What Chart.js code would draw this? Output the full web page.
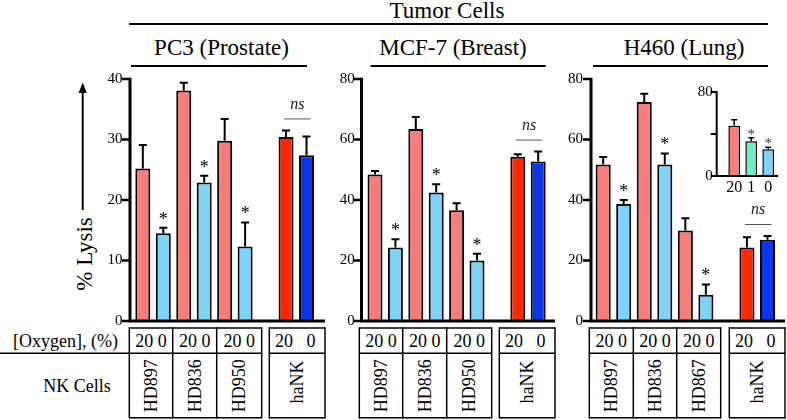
<!DOCTYPE html>
<html><head><meta charset="utf-8">
<script src="https://cdn.jsdelivr.net/npm/chart.js@4"></script>
<style>
html,body{margin:0;padding:0;background:#fff;}
#root{position:relative;width:787px;height:420px;overflow:hidden;background:#fff;}
#root canvas{position:absolute;}
#ov{position:absolute;left:0;top:0;}
</style></head><body>
<div id="root">
<svg id="ov" width="787" height="420" xmlns="http://www.w3.org/2000/svg"></svg>
<canvas id="c1"></canvas>
<canvas id="c2"></canvas>
<canvas id="c3"></canvas>
<canvas id="c4"></canvas>
</div>
<script>
// ---------------- DATA ----------------
const groupTitle = 'Tumor Cells';
const panelTitles = ['PC3 (Prostate)', 'MCF-7 (Breast)', 'H460 (Lung)'];
const yAxisTitle = '% Lysis';
const rowTitles = ['[Oxygen], (%)', 'NK Cells'];
const oxygenLevels = ['20', '0'];
const oxygenLabels = ['20', '0', '20', '0', '20', '0', '', '20', '0'];
const haNKName = 'haNK';
const nsText = 'ns';

const pc3Donors = ['HD897', 'HD836', 'HD950'];
const pc3Lysis = [25.2, 14.5, 38.1, 22.9, 29.8, 12.3, null, 30.4, 27.4];
const pc3Sem   = [3.9, 0.9, 1.3, 1.1, 3.6, 4.0, null, 1.1, 3.1];

const mcf7Donors = ['HD897', 'HD836', 'HD950'];
const mcf7Lysis = [48.4, 24.3, 63.5, 42.5, 36.6, 20.0, null, 54.3, 52.7];
const mcf7Sem   = [1.2, 2.7, 3.9, 2.7, 2.3, 2.2, null, 0.8, 3.3];

const h460Donors = ['HD897', 'HD836', 'HD867'];
const h460Lysis = [51.7, 38.7, 72.4, 51.7, 29.9, 8.7, null, 24.3, 26.9];
const h460Sem   = [2.5, 1.3, 2.7, 3.7, 4.1, 3.4, null, 3.4, 1.2];

const sigMarks = ['', '*', '', '*', '', '*', '', '', ''];

const insetLabels = ['20', '1', '0'];
const insetLysis = [47.9, 33.0, 25.5];
const insetSem   = [5.6, 3.4, 2.0];
const insetSig   = ['', '*', '*'];
const insetTickLabels = [0, 80];

// ---------------- STYLE ----------------
const PINK = '#F77C7C', LBLUE = '#7DD3F8', RED = '#FF2800', BLUE = '#0A36EE', MINT = '#70EFC6';
const mainColors = [PINK, LBLUE, PINK, LBLUE, PINK, LBLUE, null, RED, BLUE];
const FONT = "'Liberation Serif', 'DejaVu Serif', 'Noto Serif', 'Tinos', 'Nimbus Roman', 'FreeSerif', 'Times New Roman', 'Noto Serif CJK SC', 'Noto Serif CJK JP', serif";

const decor = {
  id: 'decor',
  afterDatasetsDraw(chart, args, o) {
    const {ctx, chartArea: a} = chart;
    const y = chart.scales.y;
    const meta = chart.getDatasetMeta(0);
    const data = chart.data.datasets[0].data;
    ctx.save();
    ctx.strokeStyle = '#000'; ctx.fillStyle = '#000';
    meta.data.forEach((bar, i) => {
      const v = data[i]; if (v == null) return;
      const yb = y.getPixelForValue(v), yt = y.getPixelForValue(v + o.sem[i]);
      ctx.lineWidth = o.errW;
      ctx.beginPath();
      ctx.moveTo(bar.x, yb); ctx.lineTo(bar.x, yt);
      ctx.moveTo(bar.x - o.cap, yt); ctx.lineTo(bar.x + o.cap, yt);
      ctx.stroke();
      if (o.sig[i]) {
        ctx.font = o.starFont; ctx.textAlign = 'center'; ctx.textBaseline = 'alphabetic';
        ctx.fillStyle = o.starColor || '#000';
        ctx.fillText(o.sig[i], bar.x, yt - o.starGap + o.starDrop);
        ctx.fillStyle = '#000';
      }
    });
    if (o.nsPair) {
      const [i, j] = o.nsPair;
      const bi = meta.data[i], bj = meta.data[j];
      const top = Math.min(y.getPixelForValue(data[i] + o.sem[i]), y.getPixelForValue(data[j] + o.sem[j]));
      const ly = top - 11.5;
      ctx.lineWidth = 1; ctx.strokeStyle = '#555';
      ctx.beginPath(); ctx.moveTo(bi.x - 2, ly); ctx.lineTo(bj.x + 4, ly); ctx.stroke();
      ctx.font = 'italic 16px ' + FONT; ctx.textAlign = 'center'; ctx.textBaseline = 'alphabetic';
      ctx.fillStyle = '#222';
      ctx.fillText(nsText, (bi.x + bj.x) / 2 + 1, ly - 14 + 3.7);
    }
    const ax = a.left - o.axGap;
    ctx.strokeStyle = '#000'; ctx.lineWidth = o.axW;
    ctx.beginPath();
    ctx.moveTo(ax, a.top - o.tickW / 2); ctx.lineTo(ax, a.bottom);
    ctx.moveTo(ax - o.axW / 2, a.bottom); ctx.lineTo(o.xEnd, a.bottom);
    ctx.stroke();
    ctx.lineWidth = o.tickW;
    y.ticks.forEach(t => {
      const py = y.getPixelForValue(t.value);
      ctx.beginPath(); ctx.moveTo(ax - o.tickLen, py); ctx.lineTo(ax, py); ctx.stroke();
    });
    ctx.restore();
  }
};

function setCanvas(id, left, top, w, h) {
  const c = document.getElementById(id);
  c.width = w; c.height = h;
  c.style.left = left + 'px'; c.style.top = top + 'px';
  c.style.width = w + 'px'; c.style.height = h + 'px';
  return c;
}

function makePanel(id, g, values, sem, ymax, ystep) {
  const top = 60, h = 280;
  const c = setCanvas(id, g.canvasLeft, top, g.canvasW, h);
  const yW = g.areaLeft - g.canvasLeft;
  const padR = g.canvasW - yW - 9 * g.catW;
  new Chart(c, {
    type: 'bar',
    data: {
      labels: oxygenLabels,
      datasets: [{
        data: values, backgroundColor: mainColors, borderColor: '#000',
        borderWidth: 2, barPercentage: 0.733, categoryPercentage: 1
      }]
    },
    options: {
      responsive: false, animation: false, devicePixelRatio: 1,
      layout: { padding: { left: 0, right: padR, top: 79 - top, bottom: top + h - 328 } },
      plugins: {
        legend: { display: false }, tooltip: { enabled: false },
        decor: {
          sem, sig: sigMarks, errW: 2, cap: 4, starFont: '18px ' + FONT, starGap: 12, starDrop: 8.8,
          nsPair: [7, 8], axGap: g.areaLeft - g.axisX, axW: 3, tickW: 2.5, tickLen: 8,
          xEnd: g.xEnd - g.canvasLeft
        }
      },
      scales: {
        x: { display: false, offset: true, grid: { display: false } },
        y: {
          min: 0, max: ymax,
          ticks: { stepSize: ystep, font: { family: FONT, size: 15 }, color: '#000', padding: 10 },
          grid: { display: false, drawTicks: false }, border: { display: false },
          afterFit(s) { s.width = yW; }
        }
      }
    },
    plugins: [decor]
  });
}

makePanel('c1', { canvasLeft: 87, canvasW: 243, axisX: 130, areaLeft: 132.6, catW: 20.46, xEnd: 325 }, pc3Lysis, pc3Sem, 40, 10);
makePanel('c2', { canvasLeft: 319, canvasW: 241, axisX: 361.5, areaLeft: 364.8, catW: 20.4, xEnd: 555 }, mcf7Lysis, mcf7Sem, 80, 20);
makePanel('c3', { canvasLeft: 547, canvasW: 240, axisX: 591, areaLeft: 592.9, catW: 20.54, xEnd: 785 }, h460Lysis, h460Sem, 80, 20);

(function () {
  const left = 680, top = 70, w = 107, h = 130;
  const c = setCanvas('c4', left, top, w, h);
  const areaLeft = 725.7, catW = 17, axisX = 716.7;
  const yW = areaLeft - left;
  new Chart(c, {
    type: 'bar',
    data: {
      labels: insetLabels,
      datasets: [{
        data: insetLysis, backgroundColor: [PINK, MINT, LBLUE], borderColor: '#000',
        borderWidth: 1.5, barPercentage: 0.69, categoryPercentage: 1
      }]
    },
    options: {
      responsive: false, animation: false, devicePixelRatio: 1,
      layout: { padding: { left: 0, right: w - yW - 3 * catW, top: 80.7 - top, bottom: h - (176 - top) - 20 } },
      plugins: {
        legend: { display: false }, tooltip: { enabled: false },
        decor: {
          sem: insetSem, sig: insetSig, errW: 1.5, cap: 3, starFont: '14px ' + FONT, starGap: 6, starDrop: 6.9,
          starColor: '#333', nsPair: null, axGap: areaLeft - axisX, axW: 2, tickW: 2, tickLen: 6, xEnd: 778 - left
        }
      },
      scales: {
        x: {
          offset: true, grid: { display: false, drawTicks: false }, border: { display: false },
          ticks: { font: { family: FONT, size: 16 }, color: '#000', padding: 2, maxRotation: 0, autoSkip: false },
          afterFit(s) { s.height = 20; }
        },
        y: {
          min: 0, max: 80,
          ticks: { stepSize: 40, font: { family: FONT, size: 15 }, color: '#000', padding: 13,
                   callback: v => insetTickLabels.includes(v) ? String(v) : '' },
          grid: { display: false, drawTicks: false }, border: { display: false },
          afterFit(s) { s.width = yW; }
        }
      }
    },
    plugins: [decor]
  });
})();

// ---------------- OVERLAY (titles, table) ----------------
const NS = 'http://www.w3.org/2000/svg';
const ov = document.getElementById('ov');
function el(name, attrs) {
  const e = document.createElementNS(NS, name);
  for (const k in attrs) e.setAttribute(k, attrs[k]);
  ov.appendChild(e); return e;
}
function line(x1, y1, x2, y2, w, col) {
  el('line', { x1, y1, x2, y2, stroke: col || '#000', 'stroke-width': w || 1.5 });
}
function text(s, x, y, size, anchor, rot, extra) {
  const t = el('text', Object.assign({ x, y, 'font-size': size, 'text-anchor': anchor || 'middle', fill: '#000' }, extra || {}));
  t.style.fontFamily = FONT;
  if (rot) t.setAttribute('transform', `rotate(-90 ${x} ${y})`);
  t.textContent = s; return t;
}

text(groupTitle, 447, 17.5, 23);
line(129, 24, 768, 24, 1.8);
const titleGeo = [[221.5, 131, 307], [453, 370.7, 545.7], [684, 593, 768]];
panelTitles.forEach((t, i) => {
  const [cx, x1, x2] = titleGeo[i];
  text(t, cx, 55, 23);
  line(x1, 66, x2, 66, 1.8);
});

line(82.7, 92, 82.7, 210, 2);
el('polygon', { points: '82.7,82.5 78.6,93 86.8,93', fill: '#000' });
text(yAxisTitle, 91.5, 254, 23, 'middle', true);

text(rowTitles[0], 118, 347, 18, 'end');
text(rowTitles[1], 77, 391.5, 18, 'middle');
line(0, 353.3, 129.3, 353.3, 1.5);

const tableGeo = [
  { edges: [129.3, 172.7, 216.7, 261.7], ha: [269.3, 325], donors: pc3Donors },
  { edges: [359.3, 402.7, 446.7, 491.7], ha: [499.3, 555], donors: mcf7Donors },
  { edges: [589.3, 633.3, 676.7, 720.7], ha: [729.3, 785], donors: h460Donors }
];
const yTop = 328, yMid = 353.3, yBot = 417.7;
function box(edges) {
  const x0 = edges[0], x1 = edges[edges.length - 1];
  line(x0, yTop, x1, yTop, 1.5);
  line(x0, yMid, x1, yMid, 1.5);
  line(x0, yBot, x1, yBot, 1.5);
  edges.forEach(x => line(x, yTop - 0.75, x, yBot + 0.75, 1.5));
}
tableGeo.forEach(g => {
  box(g.edges);
  box(g.ha);
  for (let k = 0; k < g.donors.length; k++) {
    const cx = (g.edges[k] + g.edges[k + 1]) / 2;
    text(oxygenLevels.join(' '), cx, 346.7, 18);
    text(g.donors[k], cx + 6, 385.7, 18, 'middle', true);
  }
  const hx = (g.ha[0] + g.ha[1]) / 2;
  text(oxygenLevels.join('   '), hx - 2, 346.7, 18, 'middle', false, { style: 'white-space:pre' });
  text(haNKName, hx + 6, 382, 18, 'middle', true);
});
</script>
</body></html>
